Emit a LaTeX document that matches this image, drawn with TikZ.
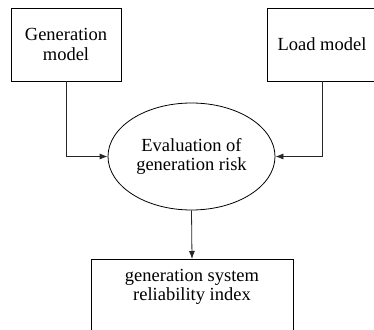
\documentclass[tikz,border=0pt]{standalone}
\usepackage{fontspec}
\setmainfont{Liberation Serif}
\usetikzlibrary{shapes,arrows,arrows.meta,positioning,calc}

\begin{document}
\begin{tikzpicture}[x=1pt,y=1pt,
    txt/.style={align=center,font=\fontsize{18.5}{19.5}\selectfont},
    box/.style={draw,txt,line width=0.8pt,minimum width=110pt,minimum height=73pt},
    link/.style={-{Latex[length=8pt,width=6pt]},line width=0.8pt,draw=black!85}]
  \useasboundingbox (0,0) rectangle (374,329);
  \clip (0,0) rectangle (374,329);
  \node[box] (gen) at (66,284.5) {Generation\\model};
  \node[box] (load) at (322,284.5) {Load model};
  \node[draw,ellipse,txt,line width=0.8pt,inner sep=0pt,minimum width=167pt,minimum height=107pt] (eval) at (191.5,172.5) {Evaluation of\\generation risk};
  \node[box,minimum width=202pt,minimum height=100pt,anchor=north] (idx) at (192,70) {};
  \node[txt] (idxtext) at (192,42) {generation system\\reliability index};
  \draw[link] (gen.south) |- (eval.west);
  \draw[link] (load.south) |- (eval.east);
  \draw[link] (eval.south) -- (idx.north);
\end{tikzpicture}
\end{document}
